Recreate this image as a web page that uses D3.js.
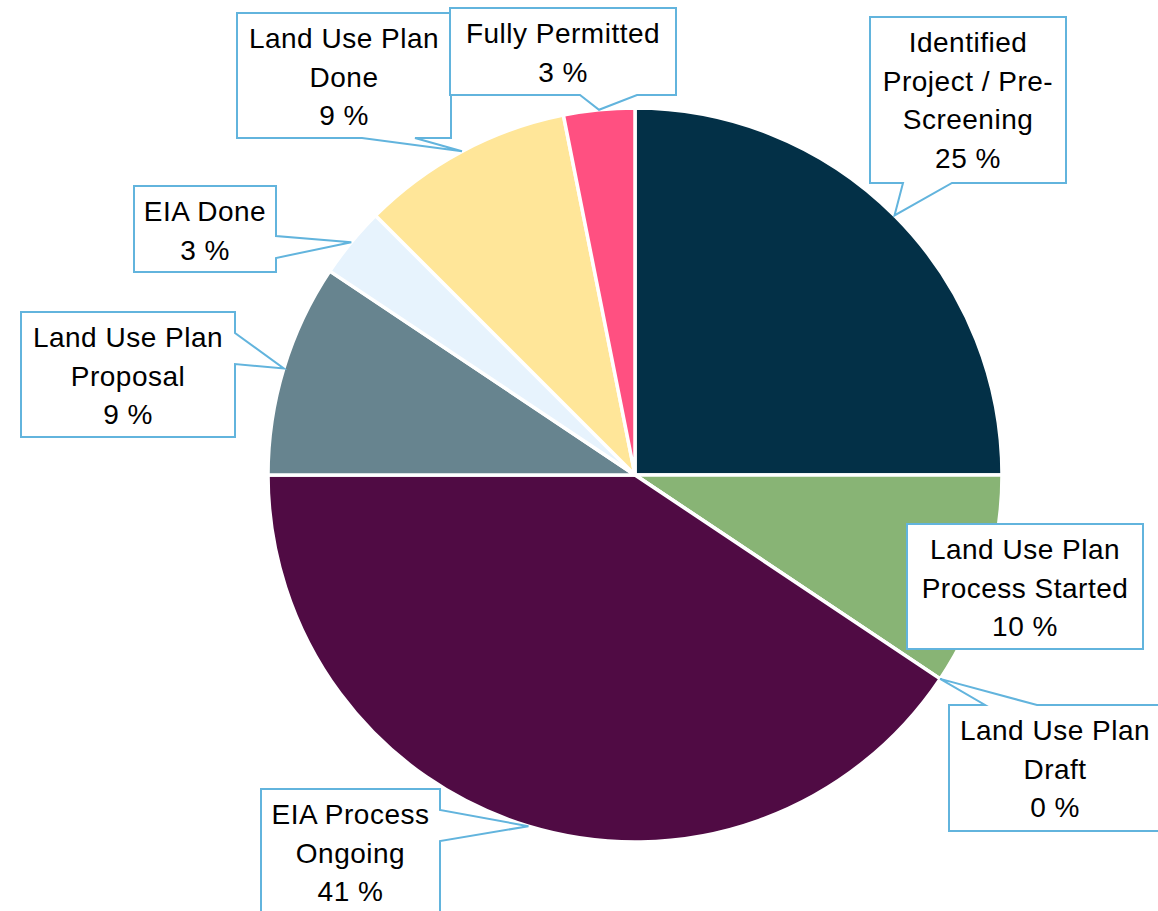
<!DOCTYPE html>
<html>
<meta charset="utf-8">
<script src="https://d3js.org/d3.v7.min.js"></script>
<style>
  body { margin: 0; background: #fff; }
</style>
<body>
<div id="vis"></div>
<script>

// data
const categories = [
  "Identified\nProject / Pre-\nScreening",
  "Land Use Plan\nProcess Started",
  "Land Use Plan\nDraft",
  "EIA Process\nOngoing",
  "Land Use Plan\nProposal",
  "EIA Done",
  "Land Use Plan\nDone",
  "Fully Permitted"
];
const counts = [8, 3, 0, 13, 3, 1, 3, 1];
const pctLabels = ["25 %", "10 %", "0 %", "41 %", "9 %", "3 %", "9 %", "3 %"];
const colors = ["#033047", "#88b475", "#c9d8b8", "#500b44", "#67848f", "#e7f3fd", "#ffe699", "#ff5081"];

// callout boxes (layout only): box corners, side of the pointer, pointer base
const callouts = [
  {x0: 870, y0: 17,  x1: 1066, y1: 183, side: "bottom", b1: 903, b2: 952},
  {x0: 907, y0: 524, x1: 1143, y1: 649, side: "none"},
  {x0: 949, y0: 705, x1: 1161, y1: 831, side: "top",    b1: 985, b2: 1037},
  {x0: 261, y0: 789, x1: 440,  y1: 940, side: "right",  b1: 810, b2: 841},
  {x0: 21,  y0: 312, x1: 235,  y1: 437, side: "right",  b1: 333, b2: 364},
  {x0: 134, y0: 186, x1: 276,  y1: 272, side: "right",  b1: 236, b2: 258},
  {x0: 237, y0: 13,  x1: 451,  y1: 138, side: "bottom", b1: 362, b2: 415},
  {x0: 450, y0: 8,   x1: 676,  y1: 95,  side: "bottom", b1: 580, b2: 637}
];

const width = 1158, height = 911;
const cx = 635, cy = 475, radius = 367;

const svg = d3.select("#vis")
  .append("svg")
    .attr("width", width)
    .attr("height", height);

const pie = d3.pie().sort(null).value(d => d)(counts);

const arc = d3.arc().innerRadius(0).outerRadius(radius);

const g = svg.append("g")
  .attr("transform", `translate(${cx},${cy})`);

g.selectAll("path")
  .data(pie)
  .join("path")
    .attr("d", arc)
    .attr("fill", (d, i) => colors[i])
    .attr("stroke", "#fff")
    .attr("stroke-width", 3.5)
    .attr("stroke-linejoin", "round");

// pointer tip: outer edge of the slice, at its middle angle
function tip(d) {
  const a = (d.startAngle + d.endAngle) / 2;
  return [cx + radius * Math.sin(a), cy - radius * Math.cos(a)];
}

function calloutPath(c, t) {
  const p = [];
  if (c.side === "bottom") {
    p.push([c.x0, c.y0], [c.x1, c.y0], [c.x1, c.y1], [c.b2, c.y1], t, [c.b1, c.y1], [c.x0, c.y1]);
  } else if (c.side === "top") {
    p.push([c.x0, c.y0], [c.b1, c.y0], t, [c.b2, c.y0], [c.x1, c.y0], [c.x1, c.y1], [c.x0, c.y1]);
  } else if (c.side === "right") {
    p.push([c.x0, c.y0], [c.x1, c.y0], [c.x1, c.b1], t, [c.x1, c.b2], [c.x1, c.y1], [c.x0, c.y1]);
  } else {
    p.push([c.x0, c.y0], [c.x1, c.y0], [c.x1, c.y1], [c.x0, c.y1]);
  }
  return "M" + p.map(q => q.join(",")).join("L") + "Z";
}

const labels = svg.append("g")
  .selectAll("g")
  .data(pie)
  .join("g");

labels.append("path")
  .attr("d", (d, i) => calloutPath(callouts[i], tip(d)))
  .attr("fill", "#fff")
  .attr("stroke", "#62b4dd")
  .attr("stroke-width", 2)
  .attr("stroke-linejoin", "miter");

labels.each(function(d, i) {
  const c = callouts[i];
  const lines = categories[i].split("\n").concat([pctLabels[i]]);
  const t = d3.select(this).append("text")
    .attr("text-anchor", "middle")
    .style("font", "28px 'Liberation Sans', Arial, sans-serif")
    .style("letter-spacing", "0.5px")
    .attr("fill", "#000");
  lines.forEach((s, k) => {
    t.append("tspan")
      .attr("x", (c.x0 + c.x1) / 2)
      .attr("y", c.y0 + 35 + k * 38.5)
      .text(s);
  });
});

</script>
</body>
</html>
